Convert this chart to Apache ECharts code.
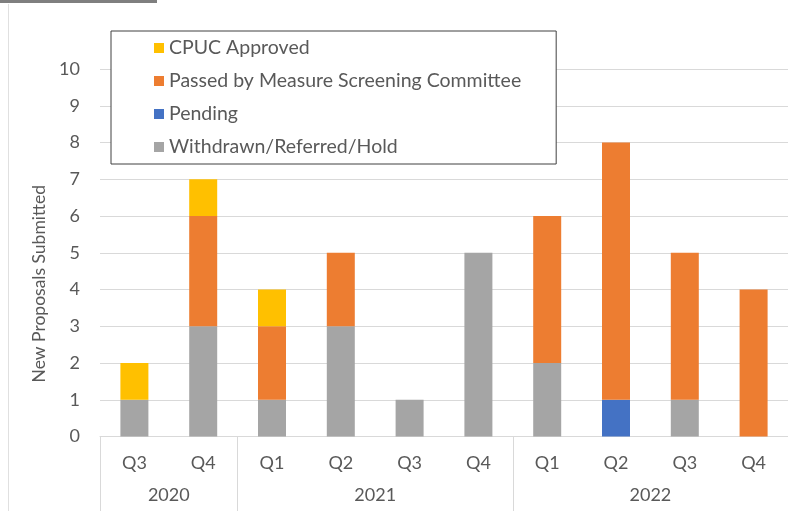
<!DOCTYPE html>
<html>
<head>
<meta charset="utf-8">
<script src="https://cdn.jsdelivr.net/npm/echarts@6/dist/echarts.min.js"></script>
<style>
  html, body { margin: 0; padding: 0; background: #fff; }
  #chart { width: 788px; height: 511px; }
</style>
</head>
<body>
<div id="chart"></div>
<script>
// quarter labels and year groups (span = number of quarters in that year)
const quarters = ['Q3', 'Q4', 'Q1', 'Q2', 'Q3', 'Q4', 'Q1', 'Q2', 'Q3', 'Q4'];
const years = ['2020', '2021', '2022'];
const yearSpans = [2, 4, 4];

// series values, bottom to top in the stack
const withdrawn = [1, 3, 1, 3, 1, 5, 2, 0, 1, 0];
const pending = [0, 0, 0, 0, 0, 0, 0, 1, 0, 0];
const passed = [0, 3, 2, 2, 0, 0, 4, 7, 4, 4];
const cpuc = [1, 1, 1, 0, 0, 0, 0, 0, 0, 0];

const FONT = 'Lato';
const TEXT = '#595959';
const GRID = '#D9D9D9';

// group boundaries and centres on a 0..n scale for the year axis
const bounds = [0];
yearSpans.forEach((s, i) => bounds.push(bounds[i] + s));
const centres = years.map((y, i) => (bounds[i] + bounds[i + 1]) / 2);

const chart = echarts.init(document.getElementById('chart'));

const bar = (name, data, color) => ({
  name,
  type: 'bar',
  stack: 'total',
  barWidth: 28,
  data,
  itemStyle: { color },
  emphasis: { disabled: true }
});

chart.setOption({
  animation: false,
  textStyle: { fontFamily: FONT },
  grid: { left: 100, top: 69, width: 690, height: 367.5, containLabel: false },
  legend: {
    data: ['CPUC Approved', 'Passed by Measure Screening Committee', 'Pending', 'Withdrawn/Referred/Hold'],
    orient: 'vertical',
    left: 111,
    top: 31,
    padding: [7, 35, 7, 43],
    itemGap: 13,
    itemWidth: 10,
    itemHeight: 10,
    icon: 'rect',
    backgroundColor: '#fff',
    borderColor: '#404040',
    borderWidth: 1,
    borderRadius: 0,
    selectedMode: false,
    textStyle: { fontFamily: FONT, fontSize: 19.5, color: TEXT }
  },
  xAxis: [
    {
      type: 'category',
      data: quarters,
      position: 'bottom',
      axisLine: { lineStyle: { color: GRID } },
      axisTick: { show: false },
      axisLabel: { fontFamily: FONT, fontSize: 18, color: TEXT, margin: 18 }
    },
    {
      type: 'value',
      min: 0,
      max: quarters.length,
      position: 'bottom',
      axisLine: { show: false },
      splitLine: { show: false },
      axisTick: {
        show: true,
        customValues: bounds,
        length: 76,
        lineStyle: { color: GRID }
      },
      axisLabel: {
        customValues: centres,
        formatter: v => years[centres.indexOf(v)] || '',
        fontFamily: FONT,
        fontSize: 18,
        color: TEXT,
        margin: 50
      }
    }
  ],
  yAxis: {
    type: 'value',
    min: 0,
    max: 10,
    interval: 1,
    name: 'New Proposals Submitted',
    nameLocation: 'middle',
    nameGap: 49,
    nameTextStyle: { fontFamily: FONT, fontSize: 17.5, color: TEXT, padding: [0, 62, 0, 0] },
    axisLine: { show: false },
    axisTick: { show: false },
    splitLine: { lineStyle: { color: GRID } },
    axisLabel: { fontFamily: FONT, fontSize: 18, color: TEXT, margin: 20 }
  },
  series: [
    bar('Withdrawn/Referred/Hold', withdrawn, '#A5A5A5'),
    bar('Pending', pending, '#4472C4'),
    bar('Passed by Measure Screening Committee', passed, '#ED7D31'),
    bar('CPUC Approved', cpuc, '#FFC000')
  ],
  graphic: [
    // frame remnants from the source screenshot
    { type: 'rect', left: 0, top: 0, shape: { width: 157, height: 3 }, style: { fill: '#7F7F7F' } },
    { type: 'rect', left: 8, top: 4, shape: { width: 1, height: 507 }, style: { fill: '#E0E0E0' } }
  ]
});
</script>
</body>
</html>
